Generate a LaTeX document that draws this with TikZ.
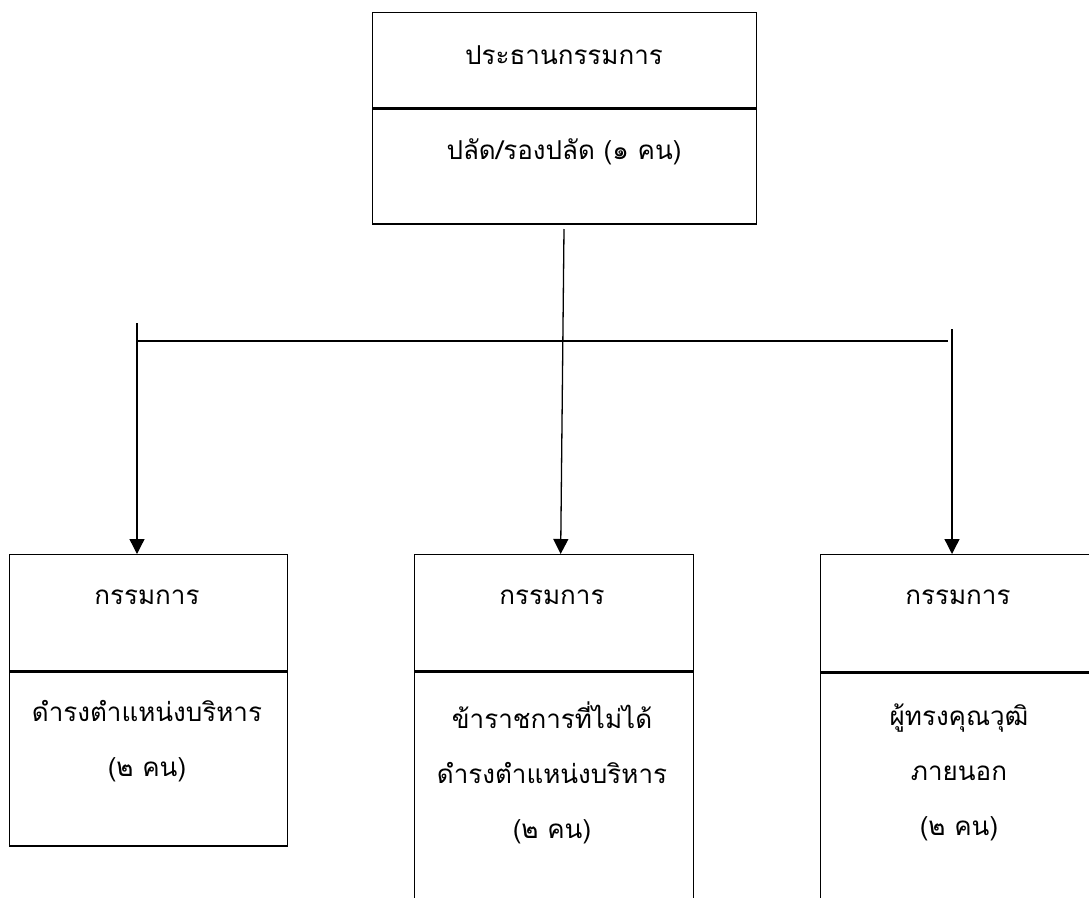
\documentclass[tikz,border=0pt]{standalone}
\usepackage{fontspec}
\newfontfamily\thai[Script=Thai]{Loma}
\usetikzlibrary{arrows.meta,positioning}
\tikzset{
	box/.style={draw, line width=1.3pt, inner sep=0pt, anchor=north west},
	txt/.style={font=\thai\fontsize{26}{55}\selectfont, align=center, inner sep=0pt},
	link/.style={line width=1.3pt, -{Triangle[length=15pt,width=15pt]}}
}
\begin{document}
\begin{tikzpicture}[x=1pt,y=-1pt]
	\useasboundingbox (0,0) rectangle (1089,897);
	\clip (0,0) rectangle (1089,897);
	\node[box, minimum width=384pt, minimum height=95pt] (chairHead) at (372,12) {};%Vorsitz oben
	\node[box, minimum width=384pt, minimum height=115pt] (chairBody) at (chairHead.south west) {};%Vorsitz unten
	\node[box, minimum width=278pt, minimum height=116pt] (leftHead) at (9,554) {};%linker Kasten oben
	\node[box, minimum width=278pt, minimum height=174pt] (leftBody) at (leftHead.south west) {};%linker Kasten unten
	\node[box, minimum width=279pt, minimum height=116pt] (midHead) at (414,554) {};%mittlerer Kasten oben
	\node[box, minimum width=279pt, minimum height=260pt] (midBody) at (midHead.south west) {};%mittlerer Kasten unten
	\node[box, minimum width=300pt, minimum height=117pt] (rightHead) at (820,554) {};%rechter Kasten oben
	\node[box, minimum width=300pt, minimum height=260pt] (rightBody) at (rightHead.south west) {};%rechter Kasten unten
	\node[txt] (chairTitle) at (564,55) {ประธานกรรมการ};
	\node[txt] (chairText) at (564,152) {ปลัด/รองปลัด (๑ คน)};
	\node[txt] (leftTitle) at (147,597) {กรรมการ};
	\node[txt] (leftText) at (147,741) {ดำรงตำแหน่งบริหาร\\(๒ คน)};
	\node[txt] (midTitle) at (552,597) {กรรมการ};
	\node[txt] (midText) at (552,773) {ข้าราชการที่ไม่ได้\\ดำรงตำแหน่งบริหาร\\(๒ คน)};
	\node[txt] (rightTitle) at (958,597) {กรรมการ};
	\node[txt] (rightText) at (959,772) {ผู้ทรงคุณวุฒิ\\ภายนอก\\(๒ คน)};
	\coordinate (trunk) at (564,229);%Stamm oben
	\coordinate (busL) at (137,341);%Querlinie links
	\coordinate (busR) at (948,341);%Querlinie rechts
	\coordinate (dropL) at (137,323);%linker Strich oben
	\coordinate (dropR) at (952,329);%rechter Strich oben
	\draw[line width=1.3pt] (busL) -- (busR);%Querlinie
	\draw[link] (trunk) -- ([xshift=6.5pt]midHead.north);%Stamm
	\draw[link] (dropL) -- (dropL |- leftHead.north);%links runter
	\draw[link] (dropR) -- (dropR |- rightHead.north);%rechts runter
\end{tikzpicture}
\end{document}
